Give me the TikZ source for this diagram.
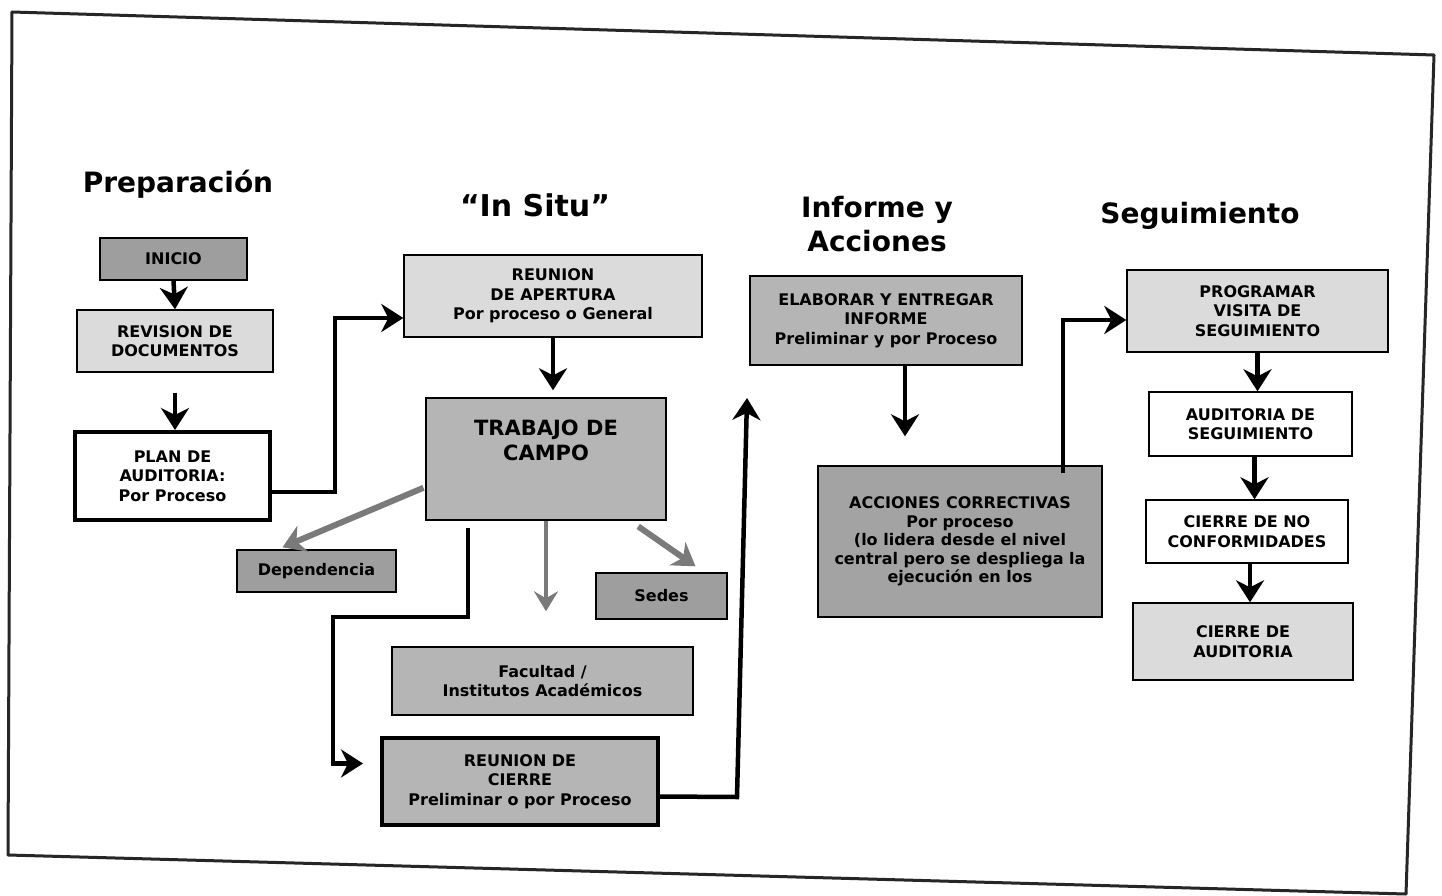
\documentclass[tikz,border=0pt]{standalone}
\usepackage{fontspec}
\setmainfont{DejaVu Sans}
\usetikzlibrary{arrows.meta,calc}
\definecolor{fdark}{gray}{0.62}
\definecolor{fmed}{gray}{0.71}
\definecolor{flight}{gray}{0.86}
\definecolor{facc}{gray}{0.64}
\begin{document}
\begin{tikzpicture}[x=1pt,y=-1pt,
  box/.style={draw=black,line width=1.4pt,align=center,inner sep=2pt,
    font=\bfseries\fontsize{16}{19.5}\selectfont},
  thickbox/.style={box,line width=4pt},
  head/.style={font=\bfseries\fontsize{28}{34}\selectfont,align=center,inner sep=0pt},
  arr/.style={draw=black,line width=4.5pt,-{Stealth[length=22pt,width=28pt,inset=7pt]}},
  garr/.style={draw=black!52,line width=6pt,-{Stealth[length=22pt,width=28pt,inset=7pt]}},
  tarr/.style={draw=black!52,line width=3.5pt,-{Stealth[length=20pt,width=24pt,inset=7pt]}}
]
\useasboundingbox (0,0) rectangle (1442,896);
\fill[white] (0,0) rectangle (1442,896);
% frame
\draw[black!85,line width=3pt,line join=round] (12,12) -- (1434,55) -- (1406,894) -- (8,855) -- cycle;

% headers
\node[head] (h1) at (178,184) {Preparación};
\node[head,font=\bfseries\fontsize{30}{34}\selectfont] (h2) at (535,205) {“In Situ”};
\node[head] (h3) at (877,224) {Informe y\\Acciones};
\node[head] (h4) at (1200,216) {Seguimiento};

% column 1
\node[box,fill=fdark,minimum width=147pt,minimum height=42pt] (inicio) at (173.5,259) {INICIO};
\node[box,fill=flight,minimum width=196pt,minimum height=62pt] (rev) at (175,341) {REVISION DE\\DOCUMENTOS};
\node[thickbox,fill=white,minimum width=195pt,minimum height=88pt] (plan) at (172.5,476) {PLAN DE\\AUDITORIA:\\Por Proceso};

% column 2
\node[box,fill=flight,minimum width=298pt,minimum height=82pt] (apert) at (553,296) {REUNION\\DE APERTURA\\Por proceso o General};
\node[box,fill=fmed,minimum width=240pt,minimum height=122pt] (trab) at (546,459) {};
\node[font=\bfseries\fontsize{21}{25}\selectfont,align=center] (trablbl) at (546,440) {TRABAJO DE\\CAMPO};
\node[box,fill=fdark,minimum width=159pt,minimum height=42pt] (dep) at (316.5,571) {Dependencia};
\node[box,fill=fdark,minimum width=131pt,minimum height=46pt] (sedes) at (661.5,596) {Sedes};
\node[box,fill=fmed,minimum width=301pt,minimum height=68pt] (fac) at (542.5,681) {Facultad /\\Institutos Académicos};
\node[thickbox,fill=fmed,minimum width=276pt,minimum height=87pt] (cierre) at (520,781.5) {REUNION DE\\CIERRE\\Preliminar o por Proceso};

% column 3
\node[box,fill=fmed,minimum width=272pt,minimum height=89pt] (elab) at (886,320.5) {ELABORAR Y ENTREGAR\\INFORME\\Preliminar y por Proceso};
\node[box,fill=facc,minimum width=284pt,minimum height=151pt,font=\bfseries\fontsize{16}{18.5}\selectfont] (acc) at (960,541.5) {ACCIONES CORRECTIVAS\\Por proceso\\(lo lidera desde el nivel\\central pero se despliega la\\ejecución en los};

% column 4
\node[box,fill=flight,minimum width=261pt,minimum height=82pt] (prog) at (1257.5,311) {PROGRAMAR\\VISITA DE\\SEGUIMIENTO};
\node[box,fill=white,minimum width=203pt,minimum height=64pt] (audseg) at (1250.5,424) {AUDITORIA DE\\SEGUIMIENTO};
\node[box,fill=white,minimum width=202pt,minimum height=63pt] (cnc) at (1247,531.5) {CIERRE DE NO\\CONFORMIDADES};
\node[box,fill=flight,minimum width=220pt,minimum height=77pt] (caud) at (1243,641.5) {CIERRE DE\\AUDITORIA};

% connectors column 1
\draw[arr] (inicio.south) -- (rev.north);
\draw[arr,shorten <=20pt] (rev.south) -- (rev.south |- plan.north);
\draw[arr] ([yshift=-16pt]plan.east) -- ++(63,0) |- ([yshift=-22pt]apert.west);

% column 2
\draw[arr,shorten >=7pt] (apert.south) -- (apert.south |- trab.north);
\draw[garr,shorten <=2pt] ([yshift=-28pt]trab.west) -- ([xshift=-34pt,yshift=2pt]dep.north);
\draw[tarr] (trab.south) -- ([yshift=35pt]trab.south |- fac.north);
\draw[garr,shorten <=10pt] ([xshift=84pt]trab.south) -- ([xshift=34pt,yshift=6pt]sedes.north);
\coordinate (k1) at (468,617);
\coordinate (k2) at (333,617);
\draw[arr,shorten <=7pt,shorten >=17pt] ([xshift=-78pt]trab.south) -- (k1) -- (k2) |- ([yshift=18pt]cierre.west);
\coordinate (k3) at (737,797);
\coordinate (upend) at (747,398);
\draw[arr] ([yshift=-15pt]cierre.east) -- (k3) -- (upend);

% column 3
\draw[arr,shorten >=29pt] ([xshift=19pt]elab.south) -- ([xshift=19pt]elab.south |- acc.north);
\draw[arr,shorten <=-8pt] ([xshift=103pt]acc.north) |- ([yshift=-9pt]prog.west);

% column 4
\draw[arr] (prog.south) -- (prog.south |- audseg.north);
\draw[arr] ([xshift=4pt]audseg.south) -- ([xshift=4pt]audseg.south |- cnc.north);
\draw[arr] ([xshift=3pt]cnc.south) -- ([xshift=3pt]cnc.south |- caud.north);
\end{tikzpicture}
\end{document}
